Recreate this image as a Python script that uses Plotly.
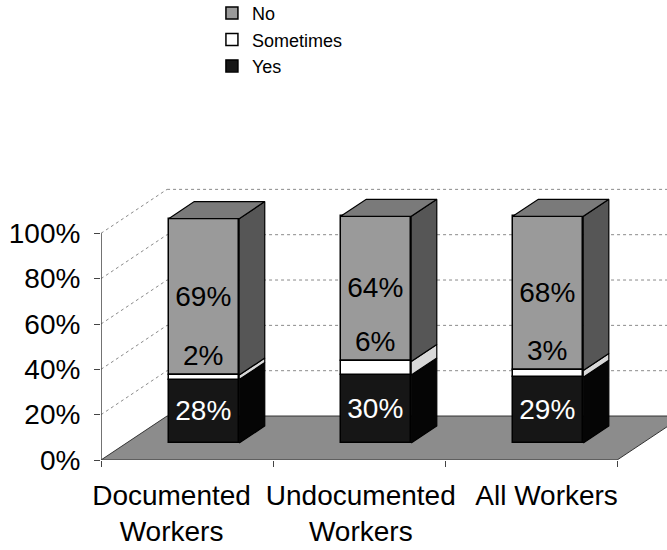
import plotly.graph_objects as go

# Survey answers per worker group (percent of respondents)
categories = ["Documented<br>Workers", "Undocumented<br>Workers", "All Workers"]
yes = [28, 30, 29]
sometimes = [2, 6, 3]
no = [69, 64, 68]
y_ticks = [0, 20, 40, 60, 80, 100]
y_tick_text = ["0%", "20%", "40%", "60%", "80%", "100%"]

# Oblique projection of the depth axis (x in category units, y in percent)
DEPTH_X = 0.384
DEPTH_Y = 19.4
BAR_FRONT = 0.386      # depth fraction of each column's front face
BAR_BACK = 0.773       # depth fraction of each column's back face
BAR_WIDTH = 0.41
BAR_CENTER = 0.45
X_MAX = 3.29
Y_MAX = 120
LABEL_X = [0.41, 1.51, 2.59]   # category label anchors along the floor edge

FONT = "Liberation Sans, Arial, sans-serif"
NO_FRONT, NO_SIDE, NO_TOP = "#9a9a9a", "#565656", "#7a7a7a"
YES_FRONT, YES_SIDE = "#161616", "#050505"
SOME_FRONT, SOME_SIDE = "#ffffff", "#d8d8d8"
FLOOR = "#8c8c8c"
GRID = "#8a8a8a"

n = len(categories)
fx, fy = BAR_FRONT * DEPTH_X, BAR_FRONT * DEPTH_Y
sx, sy = (BAR_BACK - BAR_FRONT) * DEPTH_X, (BAR_BACK - BAR_FRONT) * DEPTH_Y
xc = [i + BAR_CENTER + fx for i in range(n)]

base_yes = [fy] * n
base_some = [fy + a for a in yes]
base_no = [fy + a + b for a, b in zip(yes, sometimes)]

fig = go.Figure()


def front(name, vals, base, color, txtcolor, pos, rank):
    fig.add_trace(go.Bar(
        name=name, x=xc, y=vals, base=base, width=BAR_WIDTH,
        marker=dict(color=color, line=dict(color="black", width=1.5)),
        text=[f"{v}%" for v in vals], textposition=pos,
        insidetextanchor="middle", textangle=0, cliponaxis=False,
        textfont=dict(family=FONT, size=28, color=txtcolor),
        legendrank=rank, hoverinfo="skip",
    ))


front("Yes", yes, base_yes, YES_FRONT, "white", "inside", 3)
front("No", no, base_no, NO_FRONT, "black", "inside", 1)
front("Sometimes", sometimes, base_some, SOME_FRONT, "black", "outside", 2)


def side_faces(vals, base, color):
    xs, ys = [], []
    for c, v, b in zip(xc, vals, base):
        xr = c + BAR_WIDTH / 2
        xs += [xr, xr + sx, xr + sx, xr, xr, None]
        ys += [b, b + sy, b + v + sy, b + v, b, None]
    fig.add_trace(go.Scatter(x=xs, y=ys, mode="lines", fill="toself",
                             fillcolor=color, line=dict(color="black", width=1.2),
                             showlegend=False, hoverinfo="skip"))


side_faces(yes, base_yes, YES_SIDE)
side_faces(sometimes, base_some, SOME_SIDE)
side_faces(no, base_no, NO_SIDE)

# Top faces of the columns
xs, ys = [], []
for c, v, b in zip(xc, no, base_no):
    xl, xr, yt = c - BAR_WIDTH / 2, c + BAR_WIDTH / 2, b + v
    xs += [xl, xr, xr + sx, xl + sx, xl, None]
    ys += [yt, yt, yt + sy, yt + sy, yt, None]
fig.add_trace(go.Scatter(x=xs, y=ys, mode="lines", fill="toself",
                         fillcolor=NO_TOP, line=dict(color="black", width=1.2),
                         showlegend=False, hoverinfo="skip"))

shapes = []
# Floor
shapes.append(dict(
    type="path", xref="x", yref="y", layer="below",
    path=f"M0,0 L{n},0 L{n + DEPTH_X},{DEPTH_Y} L{DEPTH_X},{DEPTH_Y} Z",
    fillcolor=FLOOR, line=dict(color="#333333", width=1)))
# Wall gridlines: back wall horizontals and side wall diagonals
for t in y_ticks[1:]:
    shapes.append(dict(type="line", xref="x", yref="y", layer="below",
                       x0=DEPTH_X, x1=X_MAX + 1, y0=t + DEPTH_Y, y1=t + DEPTH_Y,
                       line=dict(color=GRID, width=1, dash="dot")))
    shapes.append(dict(type="line", xref="x", yref="y", layer="below",
                       x0=0, x1=DEPTH_X, y0=t, y1=t + DEPTH_Y,
                       line=dict(color=GRID, width=1, dash="dot")))
# Value axis line
shapes.append(dict(type="line", xref="x", yref="y", x0=0, x1=0,
                   y0=y_ticks[0], y1=y_ticks[-1],
                   line=dict(color="#444444", width=1.5)))

fig.update_layout(
    width=667, height=550,
    margin=dict(l=101, r=0, t=188, b=90, autoexpand=False),
    paper_bgcolor="white", plot_bgcolor="white",
    barmode="overlay", bargap=0,
    shapes=shapes,
    font=dict(family=FONT, color="black"),
    showlegend=True,
    legend=dict(x=0.196, y=1.71, xanchor="left", yanchor="top",
                bgcolor="rgba(0,0,0,0)", font=dict(family=FONT, size=18)),
    xaxis=dict(range=[0, X_MAX], showgrid=False, zeroline=False, showline=False,
               tickvals=LABEL_X, ticktext=categories,
               ticks="", tickfont=dict(family=FONT, size=28),
               ticklabelstandoff=16,
               minor=dict(tickvals=list(range(n + 1)), ticks="outside",
                          ticklen=6, tickcolor="#444444", tickwidth=1)),
    yaxis=dict(range=[0, Y_MAX], showgrid=False, zeroline=False, showline=False,
               tickvals=y_ticks, ticktext=y_tick_text, ticks="outside", ticklen=6,
               tickcolor="#444444", tickfont=dict(family=FONT, size=28),
               ticklabelstandoff=8),
)

fig.write_html("out.html")
